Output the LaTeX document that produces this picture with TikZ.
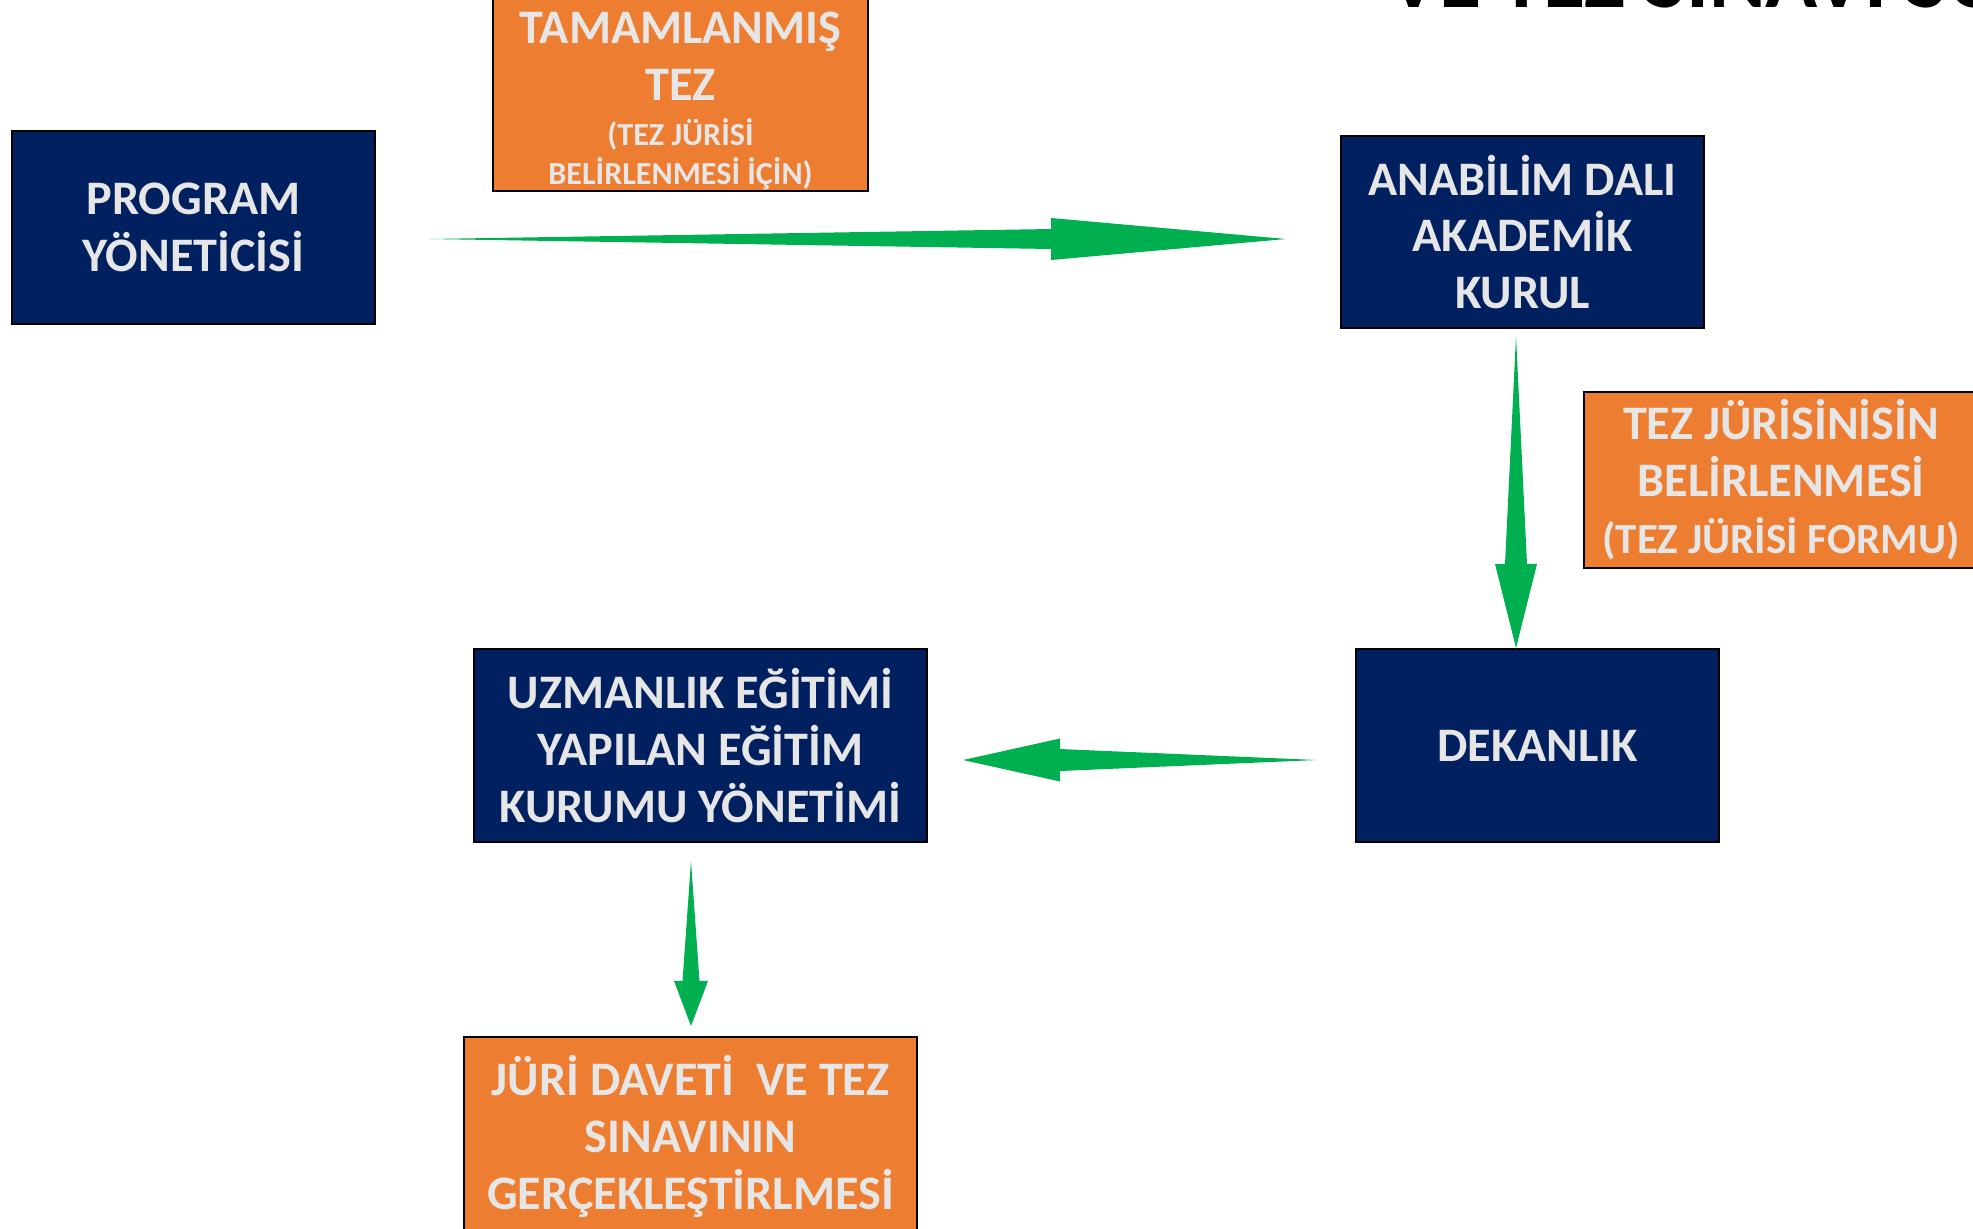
\documentclass[tikz,border=0pt]{standalone}
\usepackage{fontspec}
\setmainfont{Carlito}
\usetikzlibrary{calc}

\definecolor{navyblue}{HTML}{002060}
\definecolor{floworange}{HTML}{ED7D31}
\definecolor{flowgreen}{HTML}{00B050}
\definecolor{boxtext}{HTML}{E7E6E6}

\newcommand\boxfont{\fontsize{27.4}{32.4}\selectfont\bfseries}
\newcommand\notefont{\fontsize{18.3}{20}\selectfont}
% start, tip, head length, head half width, shaft half width
\newcommand\taperarrow[5]{%
	\path ($(#2)!#3!(#1)$) coordinate (hb);
	\fill[flowgreen] (#1) -- ($(hb)!#5!90:(#2)$) -- ($(hb)!#4!90:(#2)$) -- (#2)
		-- ($(hb)!#4!-90:(#2)$) -- ($(hb)!#5!-90:(#2)$) -- cycle;
}

\tikzset{
	navybox/.style={draw=black, line width=1.2pt, fill=navyblue, text=boxtext,
		align=center, inner sep=0pt, minimum width=7.26cm, minimum height=3.86cm, font=\boxfont},
	orangebox/.style={navybox, fill=floworange},
}

\begin{document}
\begin{tikzpicture}[x=0.02cm,y=-0.02cm]
		\useasboundingbox (0,0) rectangle (1973,1228);
		\node[anchor=base west, font=\fontsize{49}{54}\selectfont\bfseries] (title) at (1382,7) {VE TEZ SINAVI SÜRECİ};
		\node[navybox] (prog) at (193.5,227.5) {PROGRAM\\YÖNETİCİSİ};
		\node[orangebox, minimum width=7.5cm, minimum height=3.84cm] (tamam) at (680.5,95)
			{\rule{0pt}{25pt}TAMAMLANMIŞ\\TEZ\\[-7pt]{\notefont (TEZ JÜRİSİ}\\[-10pt]{\notefont BELİRLENMESİ İÇİN)}};
		\node[navybox, minimum height=3.84cm] (anabilim) at (1522.5,232) {ANABİLİM DALI\\AKADEMİK\\KURUL};
		\node[orangebox, minimum width=7.88cm, minimum height=3.52cm] (tezjuri) at (1781,480)
			{TEZ JÜRİSİNİSİN\\BELİRLENMESİ\\{\fontsize{24.5}{30}\selectfont (TEZ JÜRİSİ FORMU)}};
		\node[navybox] (dekanlik) at (1537.5,745.5) {DEKANLIK};
		\node[navybox, minimum width=9.06cm] (uzman) at (700.5,745.5) {UZMANLIK EĞİTİMİ\\YAPILAN EĞİTİM\\KURUMU YÖNETİMİ};
		\node[orangebox, minimum width=9.06cm, minimum height=3.96cm] (juri) at (690.5,1136)
			{JÜRİ DAVETİ\ \ VE TEZ\\SINAVININ\\GERÇEKLEŞTİRLMESİ};
		\coordinate (a1s) at ($(prog.east)+(53,11.5)$);
		\coordinate (a1e) at ($(anabilim.west)+(-54,7)$);
		\coordinate (a2s) at ($(anabilim.south)+(-6.5,7)$);
		\coordinate (a2e) at ($(dekanlik.north)+(-21.5,0)$);
		\coordinate (a3s) at ($(dekanlik.west)+(-38,14.5)$);
		\coordinate (a3e) at ($(uzman.east)+(35,14.5)$);
		\coordinate (a4s) at ($(uzman.south)+(-9.5,18)$);
		\coordinate (a4e) at ($(juri.north)+(0.5,-10)$);
		\taperarrow{a1s}{a1e}{4.7cm}{0.42cm}{0.2cm}
		\taperarrow{a2s}{a2e}{1.68cm}{0.42cm}{0.22cm}
		\taperarrow{a3s}{a3e}{1.94cm}{0.43cm}{0.22cm}
		\taperarrow{a4s}{a4e}{0.9cm}{0.34cm}{0.17cm}
\end{tikzpicture}
\end{document}
